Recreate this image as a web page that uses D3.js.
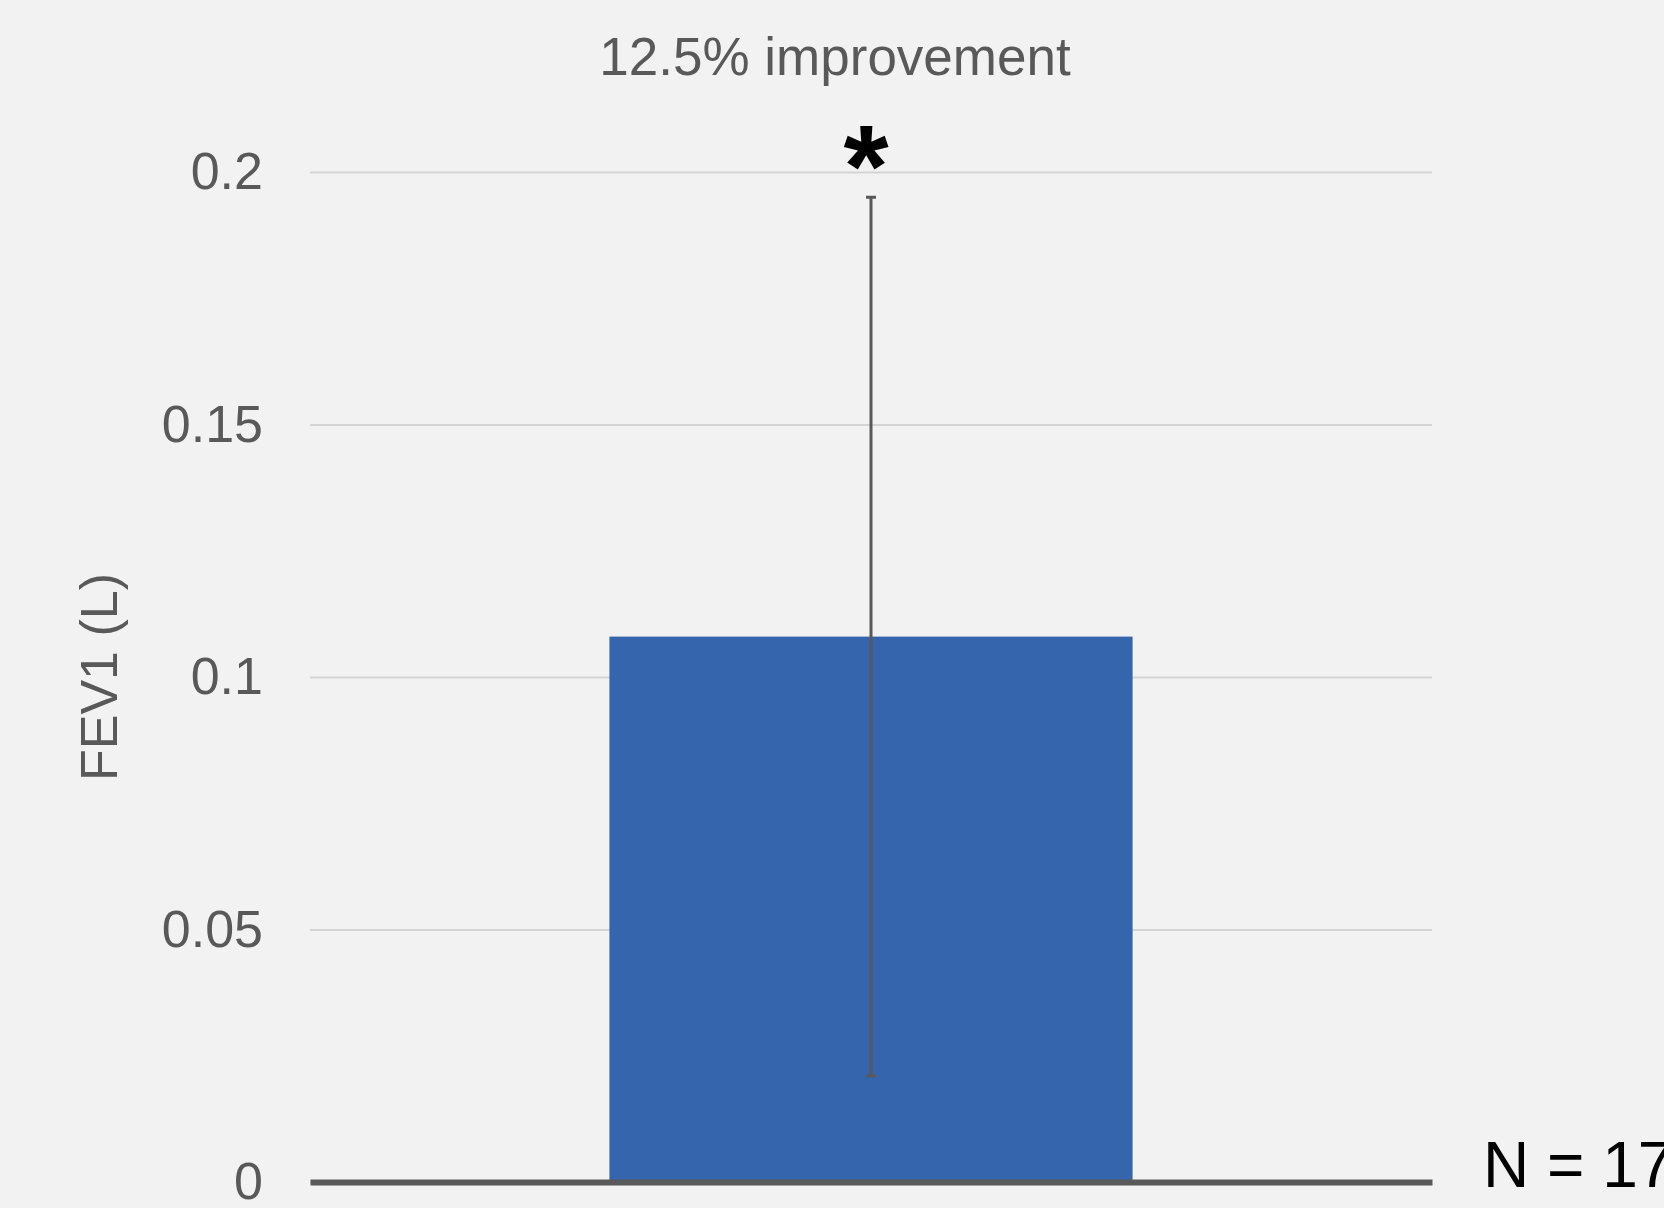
<!DOCTYPE html>
<html>
<head>
<meta charset="utf-8">
<script src="https://cdn.jsdelivr.net/npm/d3@7"></script>
<style>
  body { margin: 0; background: #f2f2f2; }
  svg { display: block; font-family: "Liberation Sans", Arial, sans-serif; }
</style>
</head>
<body>
<svg width="1664" height="1208"></svg>
<script>
const categories = ["FEV1"]
const means = [0.108]
const errors = [0.087]
const tickValues = [0, 0.05, 0.1, 0.15, 0.2]
const tickLabels = ["0", "0.05", "0.1", "0.15", "0.2"]

const width = 1664
const height = 1208
let margin = {top: 172, right: 232, bottom: 26, left: 310},
    plotWidth = width - margin.left - margin.right,
    plotHeight = height - margin.top - margin.bottom;

const svg = d3.select("svg")
svg.append("rect").attr("width", width).attr("height", height).attr("fill", "#f2f2f2")

const g = svg.append("g")
    .attr("transform", `translate(${margin.left}, ${margin.top})`)

const x = d3.scaleBand()
    .domain(categories)
    .range([0, plotWidth])
    .paddingInner(0.364)
    .paddingOuter(0.364)

const y = d3.scaleLinear()
    .domain([0, 0.2])
    .range([plotHeight, 0])

// gridlines + tick labels
const yAxis = g.append("g")
    .call(d3.axisLeft(y)
        .tickValues(tickValues)
        .tickSize(-plotWidth)
        .tickPadding(47)
        .tickFormat((d, i) => tickLabels[i]))
yAxis.select(".domain").remove()
yAxis.selectAll(".tick line")
    .attr("stroke", "#d4d4d4")
    .attr("stroke-width", 2)
yAxis.selectAll(".tick text")
    .attr("fill", "#595959")
    .attr("font-size", "52px")
    .attr("font-family", "Liberation Sans, Arial, sans-serif")
    .attr("dy", "0.32em")

// bars
g.selectAll(".bar")
    .data(categories)
    .enter().append("rect")
    .attr("class", "bar")
    .attr("x", d => x(d))
    .attr("width", x.bandwidth())
    .attr("y", (d, i) => y(means[i]))
    .attr("height", (d, i) => plotHeight - y(means[i]))
    .attr("fill", "#3565ad")

// error bars
const err = g.selectAll(".err")
    .data(categories)
    .enter().append("g")
    .attr("class", "err")
    .attr("stroke", "#595959")
    .attr("stroke-width", 3)
err.append("line")
    .attr("x1", d => x(d) + x.bandwidth() / 2)
    .attr("x2", d => x(d) + x.bandwidth() / 2)
    .attr("y1", (d, i) => y(means[i] + errors[i]))
    .attr("y2", (d, i) => y(means[i] - errors[i]))
err.append("line")
    .attr("x1", d => x(d) + x.bandwidth() / 2 - 5)
    .attr("x2", d => x(d) + x.bandwidth() / 2 + 5)
    .attr("y1", (d, i) => y(means[i] + errors[i]))
    .attr("y2", (d, i) => y(means[i] + errors[i]))
err.append("line")
    .attr("x1", d => x(d) + x.bandwidth() / 2 - 5)
    .attr("x2", d => x(d) + x.bandwidth() / 2 + 5)
    .attr("y1", (d, i) => y(means[i] - errors[i]))
    .attr("y2", (d, i) => y(means[i] - errors[i]))

// x axis line
const xAxis = g.append("g")
    .attr("transform", `translate(0, ${plotHeight})`)
    .call(d3.axisBottom(x).tickSize(0).tickFormat(""))
xAxis.select(".domain")
    .attr("stroke", "#595959")
    .attr("stroke-width", 6)

// significance star
g.append("text")
    .attr("x", x(categories[0]) + x.bandwidth() / 2 - 5)
    .attr("y", 35)
    .attr("text-anchor", "middle")
    .attr("font-size", "116px")
    .attr("font-weight", "bold")
    .attr("fill", "#000")
    .text("*")

// title
svg.append("text")
    .attr("x", 835)
    .attr("y", 75)
    .attr("text-anchor", "middle")
    .attr("font-size", "53px")
    .attr("fill", "#595959")
    .text("12.5% improvement")

// y axis title
svg.append("text")
    .attr("transform", `translate(117, ${margin.top + plotHeight / 2}) rotate(-90)`)
    .attr("text-anchor", "middle")
    .attr("font-size", "52px")
    .attr("fill", "#595959")
    .text("FEV1 (L)")

// sample size
svg.append("text")
    .attr("x", 1483)
    .attr("y", 1187)
    .attr("font-size", "64px")
    .attr("fill", "#000")
    .text("N = 17")
</script>
</body>
</html>
